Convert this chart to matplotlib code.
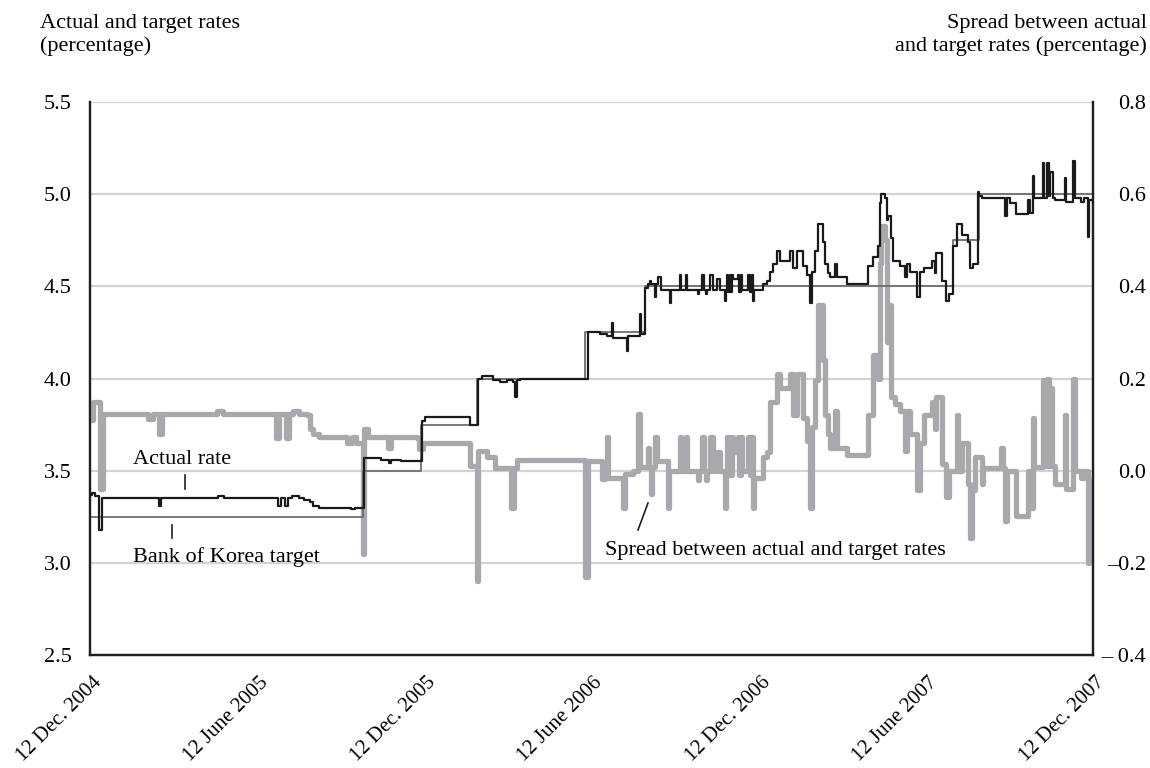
import numpy as np
import matplotlib
matplotlib.use("Agg")
import matplotlib.pyplot as plt
from matplotlib.lines import Line2D
from matplotlib.transforms import ScaledTranslation

plt.rcParams['font.family'] = ['Liberation Serif', 'DejaVu Serif']
plt.rcParams['font.size'] = 16

# Start of the sample; all series are stored as (days since start, value) step points
start = np.datetime64('2004-12-12')

# Bank of Korea target call rate (%)
target_days = [0, 298, 361, 422, 540, 606, 942, 970, 1095]
target_rate = [3.25, 3.50, 3.75, 4.00, 4.25, 4.50, 4.75, 5.00, 5.00]

# Actual overnight call rate (%)
actual_days = [0, 2, 6, 10, 13, 75, 78, 140, 146, 205, 208, 213, 216, 220, 228,
               234, 240, 244, 250, 285, 289, 299, 318, 326, 329, 340, 362, 366,
               415, 424, 428, 440, 448, 455, 462, 464, 466, 469,
               544, 557, 564, 570, 571, 586, 587, 600, 601, 606, 609, 611, 612,
               617, 618, 620, 623, 633, 634, 644, 645, 651, 652, 664, 665, 668,
               670, 673, 674, 677, 680, 685, 688, 693, 694, 695, 696, 699, 700,
               701, 702, 707, 708, 711, 712, 718, 720, 723, 724, 725, 735, 739,
               742, 746, 750, 753, 764, 768, 772, 778, 783, 786, 788, 791, 795,
               800, 802, 806, 808, 813, 815, 826, 849, 855, 860, 862, 864, 868,
               870, 871, 875, 877, 884, 890, 892, 895, 903, 906, 911, 919, 922,
               924, 930, 935, 938, 942, 946, 952, 958, 961, 964, 969, 971, 974,
               999, 1001, 1004, 1011, 1024, 1026, 1029, 1031, 1040, 1042, 1045,
               1047, 1048, 1051, 1053, 1064, 1066, 1073, 1075, 1082, 1085, 1089,
               1091, 1095]
actual_rate = [3.37, 3.38, 3.36, 3.18, 3.35, 3.31, 3.35, 3.36, 3.35, 3.31, 3.35,
               3.31, 3.35, 3.36, 3.35, 3.34, 3.33, 3.31, 3.30, 3.29, 3.30, 3.57,
               3.56, 3.54, 3.56, 3.55, 3.77, 3.79, 3.75, 4.00, 4.015, 3.99, 3.98,
               3.99, 3.98, 3.90, 3.99, 4.00,
               4.25, 4.24, 4.23, 4.30, 4.22, 4.15, 4.23, 4.35, 4.24, 4.49, 4.51,
               4.53, 4.51, 4.44, 4.51, 4.55, 4.48, 4.41, 4.48, 4.56, 4.48, 4.56,
               4.48, 4.46, 4.48, 4.56, 4.48, 4.46, 4.48, 4.56, 4.48, 4.54, 4.48,
               4.42, 4.48, 4.56, 4.47, 4.56, 4.47, 4.56, 4.54, 4.56, 4.47, 4.56,
               4.48, 4.56, 4.47, 4.56, 4.42, 4.48, 4.51, 4.53, 4.58, 4.62, 4.69,
               4.64, 4.69, 4.60, 4.69, 4.61, 4.56, 4.41, 4.58, 4.69, 4.84, 4.74,
               4.62, 4.57, 4.55, 4.62, 4.55, 4.51, 4.61, 4.66, 4.72, 4.95, 5.00,
               4.98, 4.86, 4.88, 4.76, 4.64, 4.61, 4.55, 4.62, 4.58, 4.44, 4.58,
               4.60, 4.64, 4.57, 4.68, 4.53, 4.42, 4.46, 4.72, 4.84, 4.78, 4.74,
               4.60, 4.62, 5.01, 4.99, 4.98, 4.88, 4.98, 4.95, 4.89, 4.97, 4.90,
               5.10, 4.98, 5.17, 4.98, 5.17, 4.99, 5.12, 4.98, 4.97, 5.09, 4.96,
               5.18, 4.98, 4.96, 4.98, 4.77, 4.97, 4.95]

# Spread between actual and target rates (percentage points)
spread_days = [0, 3, 9, 11, 14, 63, 69, 75, 79, 139, 145, 203, 206, 214, 217,
               222, 228, 237, 240, 244, 250, 281, 286, 290, 298, 299, 304, 325,
               329, 357, 359, 363, 415, 422, 424, 433, 442, 460, 463, 466, 540,
               544, 559, 562, 564, 566, 582, 584, 593, 598, 600, 609, 610, 613,
               614, 617, 619, 631, 632, 644, 645, 651, 652, 664, 665, 668, 670,
               673, 674, 677, 680, 685, 688, 693, 694, 695, 696, 699, 700, 701,
               702, 707, 708, 711, 712, 718, 720, 723, 724, 725, 735, 739, 742,
               750, 753, 764, 768, 772, 778, 783, 786, 788, 791, 795, 800, 802,
               806, 808, 813, 815, 826, 849, 855, 860, 862, 864, 868, 870, 871,
               875, 879, 884, 890, 892, 895, 903, 906, 911, 919, 922, 924, 930,
               935, 938, 946, 948, 952, 958, 961, 963, 966, 974, 975, 995, 997,
               999, 1001, 1011, 1024, 1026, 1029, 1031, 1040, 1042, 1045, 1047,
               1048, 1050, 1053, 1064, 1066, 1073, 1075, 1082, 1085, 1089, 1091,
               1095]
spread = [0.11, 0.15, 0.15, -0.04, 0.124, 0.113, 0.124, 0.08, 0.124, 0.13,
          0.124, 0.07, 0.124, 0.07, 0.124, 0.13, 0.124, 0.12, 0.09, 0.08, 0.072,
          0.06, 0.072, 0.06, -0.18, 0.09, 0.072, 0.05, 0.072, 0.07, 0.047, 0.061,
          0.01, -0.24, 0.043, 0.03, 0.005, -0.08, 0.005, 0.023, -0.23,
          0.022, -0.017, 0.0, 0.072, -0.015, -0.08, -0.007, 0.0, 0.124, 0.007,
          0.05, 0.007, -0.05, 0.007, 0.072, 0.02, -0.08, 0.0, 0.072, 0.0, 0.072,
          0.0, -0.02, 0.0, 0.072, 0.0, -0.02, 0.0, 0.072, 0.0, 0.04, 0.0, -0.08,
          0.0, 0.072, -0.01, 0.072, -0.01, 0.072, 0.04, 0.072, -0.01, 0.072,
          0.0, 0.072, -0.01, 0.072, -0.08, -0.015, 0.03, 0.04, 0.15,
          0.21, 0.18, 0.21, 0.12, 0.21, 0.115, 0.065, -0.08, 0.094, 0.196,
          0.36, 0.24, 0.12, 0.08, 0.05, 0.13, 0.05, 0.033, 0.12, 0.25, 0.2,
          0.45, 0.53, 0.5, 0.28, 0.36, 0.16, 0.145, 0.13, 0.043, 0.13, 0.08,
          -0.043, 0.06, 0.12, 0.15, 0.09, 0.16, 0.015, -0.058, 0.0, 0.12, 0.0,
          0.06, -0.03, -0.146, -0.043, 0.03, -0.03, 0.005, 0.05, 0.005, -0.11,
          0.0, -0.098, 0.0, -0.08, 0.115, 0.007, 0.196, 0.01, 0.2, 0.01, 0.18,
          0.01, -0.03, 0.12, -0.04, 0.2, 0.0, -0.015, 0.0, -0.2, -0.02, -0.02]

left_ticks = [2.5, 3.0, 3.5, 4.0, 4.5, 5.0, 5.5]
right_ticks = [-0.4, -0.2, 0.0, 0.2, 0.4, 0.6, 0.8]
right_labels = ['\u2013 0.4', '\u20130.2', '0.0', '0.2', '0.4', '0.6', '0.8']
date_ticks = ['2004-12-12', '2005-06-12', '2005-12-12', '2006-06-12',
              '2006-12-12', '2007-06-12', '2007-12-12']
date_labels = ['12 Dec. 2004', '12 June 2005', '12 Dec. 2005', '12 June 2006',
               '12 Dec. 2006', '12 June 2007', '12 Dec. 2007']


def to_dates(days):
    return start + np.array(days, dtype='timedelta64[D]')


W, H = 1150, 768
fig = plt.figure(figsize=(W / 100, H / 100), dpi=100)
ax = fig.add_axes([90 / W, 1 - 655 / H, (1093 - 90) / W, (655 - 102) / H])
ax2 = ax.twinx()

ax.set_ylim(2.5, 5.5)
ax2.set_ylim(-0.4, 0.8)
ax.set_xlim(np.datetime64(date_ticks[0]), np.datetime64(date_ticks[-1]))

# light horizontal gridlines
for v in left_ticks[1:]:
    ax.axhline(v, color='#d2d3d5', lw=1.6, zorder=0)

# spread on the right axis sits under the two rate lines
ax2.plot(to_dates(spread_days), spread, drawstyle='steps-post',
         color='#a7a9ac', lw=3.8, zorder=1)
ax2.plot(to_dates(target_days), target_rate, drawstyle='steps-post',
         color='#6d6e71', lw=1.3, zorder=2, transform=ax.transData)
ax2.plot(to_dates(actual_days), actual_rate, drawstyle='steps-post',
         color='#1a1a1a', lw=1.6, zorder=3, transform=ax.transData)

# spines
for a in (ax, ax2):
    a.spines['top'].set_visible(False)
    for s in ('left', 'right', 'bottom'):
        a.spines[s].set_linewidth(1.6)
        a.spines[s].set_color('#231f20')

ax.set_yticks(left_ticks)
ax.set_yticklabels([f'{v:.1f}' for v in left_ticks])
ax.tick_params(axis='y', length=0, pad=13)
ax2.set_yticks(right_ticks)
ax2.set_yticklabels(right_labels)
ax2.tick_params(axis='y', length=0, pad=38)
for lab in ax2.get_yticklabels():
    lab.set_horizontalalignment('right')

ax.set_xticks([np.datetime64(d) for d in date_ticks])
ax.set_xticklabels(date_labels, rotation=45, ha='right', va='top',
                   rotation_mode='anchor', fontsize=15)
ax.tick_params(axis='x', length=0, pad=13)
shift = ScaledTranslation(0.02, 0, fig.dpi_scale_trans)
for lab in ax.get_xticklabels():
    lab.set_transform(lab.get_transform() + shift)


def px(x, y):
    return x / W, 1 - y / H


# axis titles
fig.text(*px(40, 14), 'Actual and target rates\n(percentage)', ha='left',
         va='top', linespacing=1.25)
fig.text(*px(1147, 14), 'Spread between actual\nand target rates (percentage)',
         ha='right', va='top', linespacing=1.25, multialignment='right')

# series labels with leader marks
fig.text(*px(133, 460), 'Actual rate', ha='left', va='center')
fig.add_artist(Line2D([185 / W, 185 / W], [1 - 475 / H, 1 - 489 / H],
                      color='#231f20', lw=1.2))
fig.text(*px(133, 557), 'Bank of Korea target', ha='left', va='center')
fig.add_artist(Line2D([172 / W, 172 / W], [1 - 525 / H, 1 - 538 / H],
                      color='#231f20', lw=1.2))
fig.text(*px(605, 551), 'Spread between actual and target rates', ha='left',
         va='center')
fig.add_artist(Line2D([648 / W, 638 / W], [1 - 503 / H, 1 - 530 / H],
                      color='#231f20', lw=1.2))

fig.savefig('out.png', dpi=100)
